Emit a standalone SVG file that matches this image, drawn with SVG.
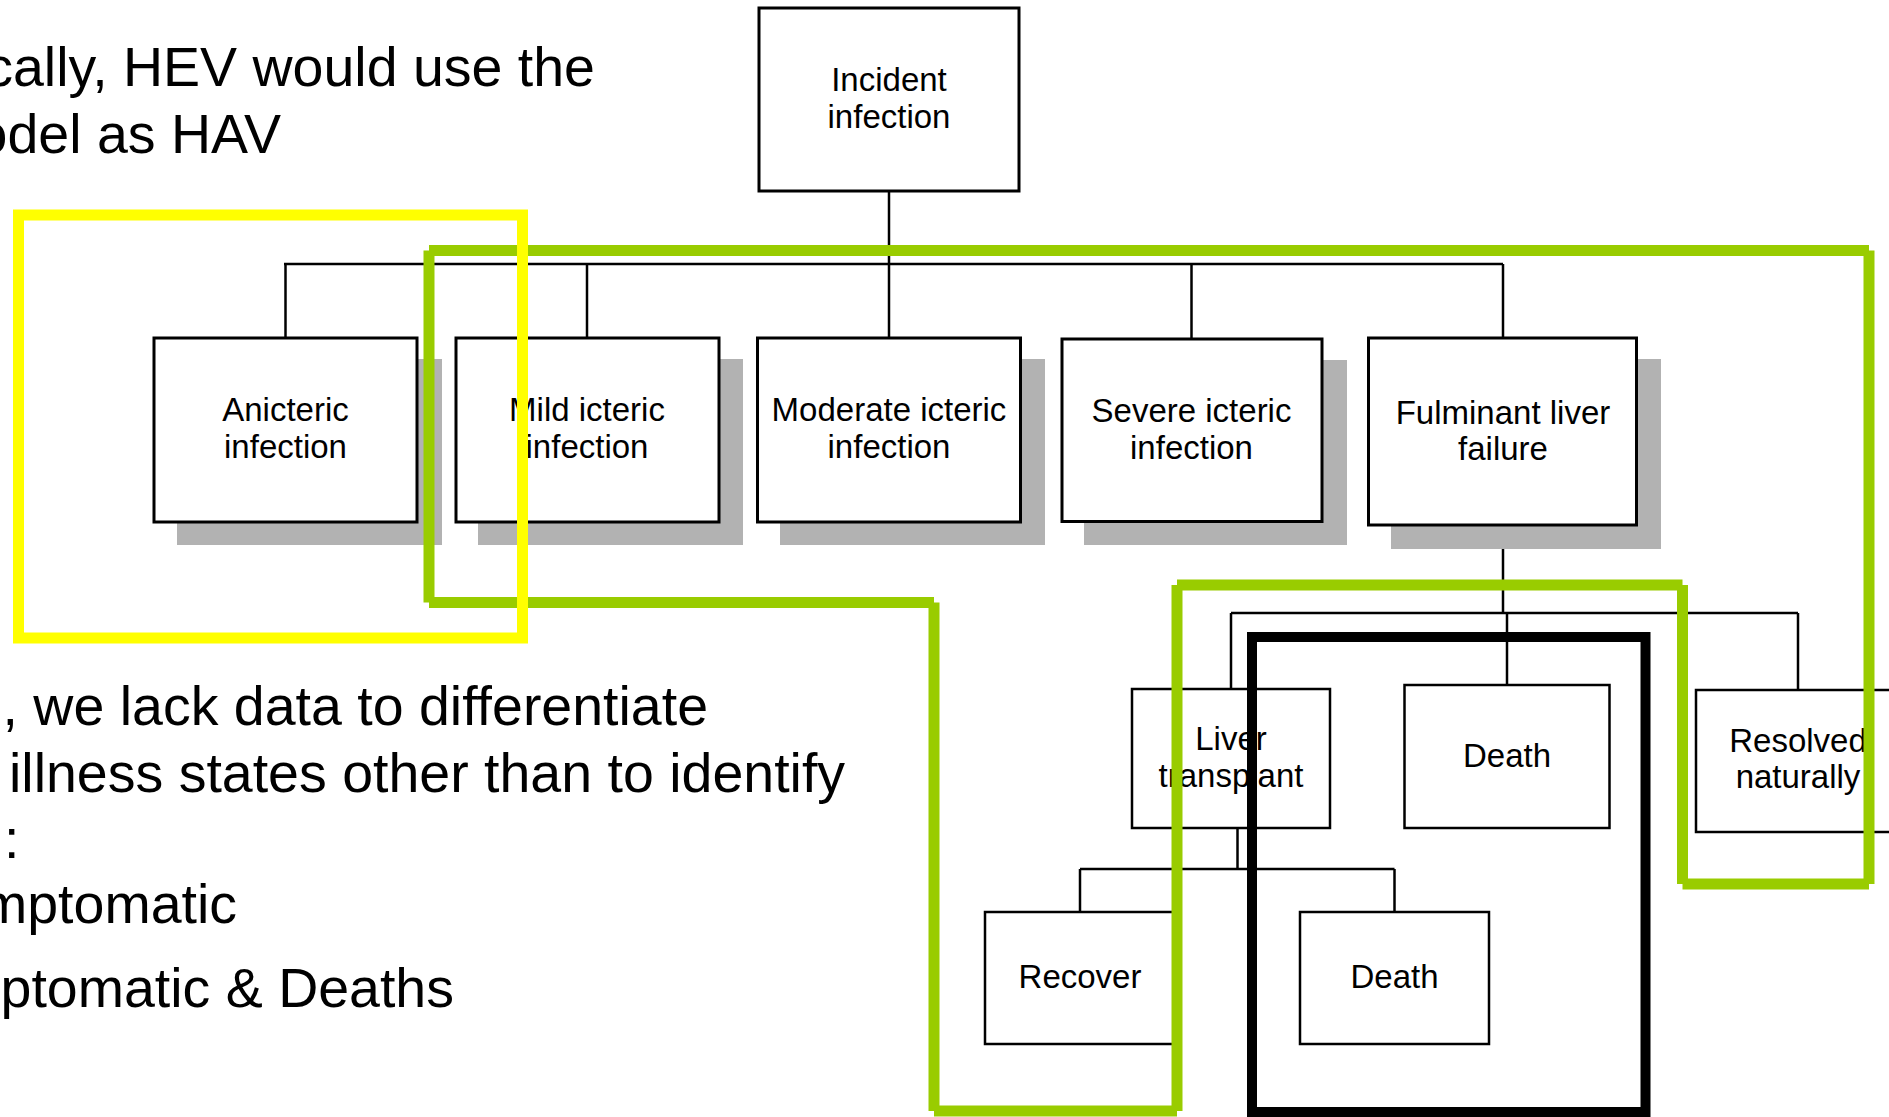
<svg xmlns="http://www.w3.org/2000/svg" width="1889" height="1117" viewBox="0 0 1889 1117">
  <style>
    .box { fill: #ffffff; stroke: #000000; stroke-width: 3; }
    .sub { fill: #ffffff; stroke: #000000; stroke-width: 2.5; }
    .shadow { fill: #b2b2b2; stroke: none; }
    .wire { stroke: #000000; stroke-width: 2.5; fill: none; }
    .lbl { font-family: "Liberation Sans", Arial, sans-serif; font-size: 33px; fill: #000000; text-anchor: middle; }
    .body { font-family: "Liberation Sans", Arial, sans-serif; font-size: 55.5px; fill: #000000; }
    .hl-green { fill: none; stroke: #99cc00; stroke-width: 11; stroke-linecap: butt; }
    .hl-yellow { fill: none; stroke: #ffff00; stroke-width: 11; }
    .hl-black { fill: none; stroke: #000000; stroke-width: 10; }
  </style>

  <rect width="1889" height="1117" fill="#ffffff"/>

  <!-- slide text -->
  <g id="slide-text">
    <text class="body" x="595" y="86" text-anchor="end">cally, HEV would use the</text>
    <text class="body" x="281" y="153" text-anchor="end">odel as HAV</text>
    <text class="body" x="708" y="725" text-anchor="end">, we lack data to differentiate</text>
    <text class="body" x="9" y="792">illness states other than to identify</text>
    <text class="body" x="4" y="858">:</text>
    <text class="body" x="237" y="923" text-anchor="end">mptomatic</text>
    <text class="body" x="454" y="1007" text-anchor="end">ptomatic &amp; Deaths</text>
  </g>

  <!-- connectors -->
  <g id="connectors">
    <line class="wire" x1="889" y1="191" x2="889" y2="338"/>
    <line class="wire" x1="284" y1="264" x2="1503" y2="264"/>
    <line class="wire" x1="285.5" y1="264" x2="285.5" y2="338"/>
    <line class="wire" x1="587" y1="264" x2="587" y2="338"/>
    <line class="wire" x1="1191.5" y1="264" x2="1191.5" y2="339"/>
    <line class="wire" x1="1503" y1="264" x2="1503" y2="338"/>
    <line class="wire" x1="1503" y1="525" x2="1503" y2="613"/>
    <line class="wire" x1="1231" y1="613" x2="1798" y2="613"/>
    <line class="wire" x1="1231" y1="613" x2="1231" y2="689"/>
    <line class="wire" x1="1507" y1="613" x2="1507" y2="685"/>
    <line class="wire" x1="1798" y1="613" x2="1798" y2="690"/>
    <line class="wire" x1="1237.5" y1="828" x2="1237.5" y2="869"/>
    <line class="wire" x1="1080" y1="869" x2="1394.5" y2="869"/>
    <line class="wire" x1="1080" y1="869" x2="1080" y2="912"/>
    <line class="wire" x1="1394.5" y1="869" x2="1394.5" y2="912"/>
  </g>

  <!-- nodes -->
  <g id="incident">
    <rect class="box" x="759" y="8" width="260" height="183"/>
    <text class="lbl" x="889" y="91">Incident</text>
    <text class="lbl" x="889" y="128">infection</text>
  </g>
  <g id="anicteric">
    <rect class="shadow" x="177" y="359" width="265" height="186"/>
    <rect class="box" x="154" y="338" width="263" height="184"/>
    <text class="lbl" x="285.5" y="421">Anicteric</text>
    <text class="lbl" x="285.5" y="458">infection</text>
  </g>
  <g id="mild">
    <rect class="shadow" x="478" y="359" width="265" height="186"/>
    <rect class="box" x="456" y="338" width="263" height="184"/>
    <text class="lbl" x="587" y="421">Mild icteric</text>
    <text class="lbl" x="587" y="458">infection</text>
  </g>
  <g id="moderate">
    <rect class="shadow" x="780" y="359" width="265" height="186"/>
    <rect class="box" x="757.5" y="338" width="263" height="184"/>
    <text class="lbl" x="889" y="421">Moderate icteric</text>
    <text class="lbl" x="889" y="458">infection</text>
  </g>
  <g id="severe">
    <rect class="shadow" x="1084" y="360" width="263" height="185"/>
    <rect class="box" x="1062" y="339" width="260" height="182.5"/>
    <text class="lbl" x="1191.5" y="422">Severe icteric</text>
    <text class="lbl" x="1191.5" y="459">infection</text>
  </g>
  <g id="fulminant">
    <rect class="shadow" x="1391" y="359" width="270" height="190"/>
    <rect class="box" x="1368.5" y="338" width="268" height="187"/>
    <text class="lbl" x="1503" y="424">Fulminant liver</text>
    <text class="lbl" x="1503" y="460">failure</text>
  </g>
  <g id="liver-transplant">
    <rect class="sub" x="1132" y="689" width="198" height="139"/>
    <text class="lbl" x="1231" y="750">Liver</text>
    <text class="lbl" x="1231" y="787">transplant</text>
  </g>
  <g id="death-fulminant">
    <rect class="sub" x="1404.5" y="685" width="205" height="143"/>
    <text class="lbl" x="1507" y="767">Death</text>
  </g>
  <g id="resolved">
    <rect class="sub" x="1696" y="690" width="210" height="142"/>
    <text class="lbl" x="1798" y="752">Resolved</text>
    <text class="lbl" x="1798" y="788">naturally</text>
  </g>
  <g id="recover">
    <rect class="sub" x="985" y="912" width="190" height="132"/>
    <text class="lbl" x="1080" y="988">Recover</text>
  </g>
  <g id="death-transplant">
    <rect class="sub" x="1300" y="912" width="189" height="132"/>
    <text class="lbl" x="1394.5" y="988">Death</text>
  </g>

  <!-- highlight outlines; the green one is built from straight strokes meeting at their centre lines -->
  <g id="highlights">
    <rect class="hl-black" x="1252" y="637" width="393.5" height="475"/>
    <path class="hl-green" d="M429,250.5 H1869 M1869,250.5 V884 M1869,884 H1682.5 M1682.5,884 V585 M1682.5,585 H1177 M1177,585 V1111 M1177,1111 H934 M934,1111 V602.5 M934,602.5 H429 M429,602.5 V250.5"/>
    <rect class="hl-yellow" x="18.5" y="215" width="504" height="423"/>
  </g>
</svg>
